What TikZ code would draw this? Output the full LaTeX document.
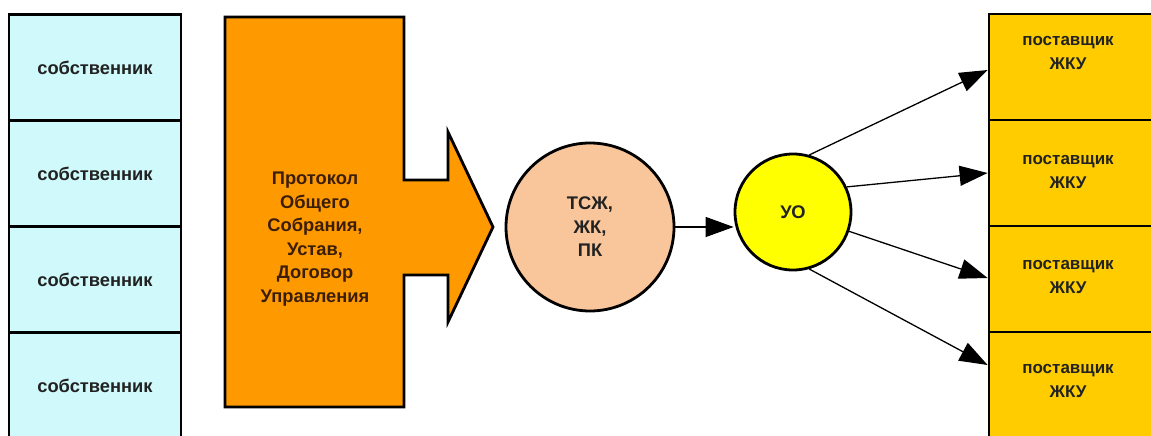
\documentclass[tikz,border=0pt]{standalone}
\usepackage{fontspec}
\setmainfont{Liberation Sans}
\usetikzlibrary{arrows.meta,calc}

\definecolor{ownerfill}{HTML}{CFF9FA}
\definecolor{docfill}{HTML}{FF9900}
\definecolor{hoafill}{HTML}{F9C59A}
\definecolor{mcfill}{HTML}{FFFF00}
\definecolor{supfill}{HTML}{FFCC00}
\definecolor{ink}{HTML}{222222}
\definecolor{brownink}{HTML}{3B1E08}

\tikzset{
  lbl/.style={font=\fontsize{18.3}{23.5}\selectfont\bfseries, text=ink, align=center},
  smalllbl/.style={font=\fontsize{17}{24}\selectfont\bfseries, text=ink, align=center},
  ownerbox/.style={draw=black, line width=2.8pt, fill=ownerfill,
    minimum width=172pt, minimum height=106pt, inner sep=0pt, lbl},
  supbox/.style={draw=black, line width=2.8pt, fill=supfill,
    minimum width=180pt, minimum height=106pt, inner sep=0pt},
  ring/.style={circle, draw=black, line width=2.8pt, inner sep=0pt, lbl},
  link/.style={line width=1.3pt, -{Triangle[length=28pt,width=20pt]}}
}

\begin{document}
\begin{tikzpicture}[x=1pt,y=-1pt]
  \useasboundingbox (0,0) rectangle (1151,436);
  \clip (0,0) rectangle (1151,436);

  % owners column
  \node[ownerbox] (o1) at (95,67.5) {собственник};
  \node[ownerbox] (o2) at (95,173.5) {собственник};
  \node[ownerbox] (o3) at (95,279.5) {собственник};
  \node[ownerbox] (o4) at (95,385.5) {собственник};

  % documents block with arrow head
  \draw[line width=2.8pt, fill=docfill, line join=miter]
    (225,17) -- (404,17) -- (404,180) -- (448,180) -- (448,132) -- (493,227)
    -- (448,322) -- (448,275) -- (404,275) -- (404,407) -- (225,407) -- cycle;
  \node[lbl, text=brownink] (docs) at (315,239)
    {Протокол\\Общего\\Собрания,\\Устав,\\Договор\\Управления};

  % associations and management company
  \node[ring, fill=hoafill, minimum size=168pt] (tsj) at (590,227) {ТСЖ,\\ЖК,\\ПК};
  \node[ring, fill=mcfill, minimum size=116pt] (uo) at (793,212) {УО};

  % suppliers column
  \node[supbox] (s1) at (1079,67) {};
  \node[supbox] (s2) at (1079,173) {};
  \node[supbox] (s3) at (1079,279) {};
  \node[supbox] (s4) at (1079,385) {};
  \node[smalllbl] (t1) at (1068,53) {поставщик\\ЖКУ};
  \node[smalllbl] (t2) at (1068,172) {поставщик\\ЖКУ};
  \node[smalllbl] (t3) at (1068,277) {поставщик\\ЖКУ};
  \node[smalllbl] (t4) at (1068,381) {поставщик\\ЖКУ};

  \coordinate (e1) at ($(s1.west)+(0,3)$);
  \coordinate (e2) at ($(s2.west)+(0,0)$);
  \coordinate (e3) at ($(s3.west)+(0,-1)$);
  \coordinate (e4) at ($(s4.west)+(0,-20)$);

  % connectors
  \draw[link] (tsj.east) -- (uo.west |- tsj.east);
  \draw[link] (uo.74) -- (e1);
  \draw[link] (uo.25) -- (e2);
  \draw[link] (uo.-19) -- (e3);
  \draw[link] (uo.-74) -- (e4);
\end{tikzpicture}
\end{document}
